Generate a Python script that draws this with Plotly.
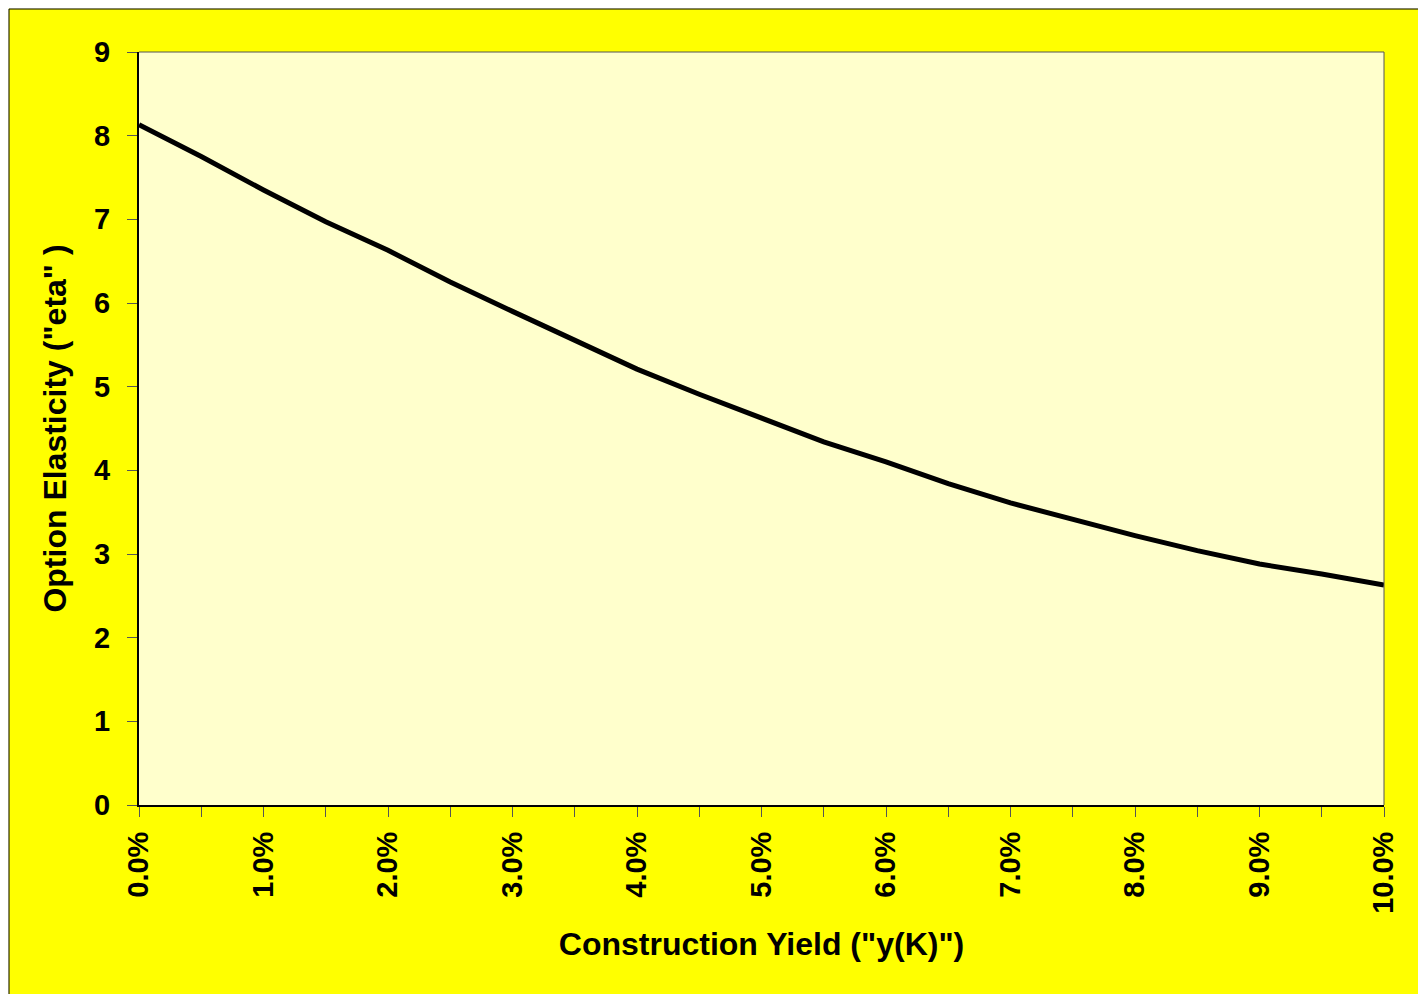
import plotly.graph_objects as go

# construction yield (fraction) and option elasticity
yields = [0.000, 0.005, 0.010, 0.015, 0.020, 0.025, 0.030, 0.035, 0.040, 0.045, 0.050,
          0.055, 0.060, 0.065, 0.070, 0.075, 0.080, 0.085, 0.090, 0.095, 0.100]
eta = [8.13, 7.75, 7.35, 6.97, 6.63, 6.25, 5.90, 5.56, 5.21, 4.91, 4.62,
       4.34, 4.10, 3.84, 3.61, 3.41, 3.22, 3.04, 2.88, 2.76, 2.63]
x_labels = [f"{v:.1%}" if i % 2 == 0 else "" for i, v in enumerate(yields)]
y_ticks = [0, 1, 2, 3, 4, 5, 6, 7, 8, 9]

FONT = "Liberation Sans, Arial, sans-serif"
TICK_COLOR = "#555555"
PLOT_W, PLOT_H = 1245, 753

fig = go.Figure()
fig.add_trace(go.Scatter(
    x=yields,
    y=eta,
    mode="lines",
    line=dict(color="black", width=5),
    hoverinfo="skip",
    showlegend=False
))

fig.update_layout(
    width=1426,
    height=994,
    autosize=False,
    margin=dict(l=131, r=50, t=44, b=197),
    paper_bgcolor="#FFFFCC",
    plot_bgcolor="#FFFFCC",
    font=dict(family=FONT, color="black", size=29, weight="bold"),
    showlegend=False,
    xaxis=dict(
        range=[0, 0.1],
        tickmode="array", tickvals=yields, ticktext=x_labels,
        ticks="outside", ticklen=10, tickwidth=1, tickcolor=TICK_COLOR,
        tickangle=-90, ticklabelstandoff=3,
        tickfont=dict(family=FONT, size=29, weight="bold"),
        showline=True, linecolor="black", linewidth=2,
        showgrid=False, zeroline=False,
        title=dict(text='Construction Yield ("y(K)")', standoff=20,
                   font=dict(family=FONT, size=32, weight="bold")),
    ),
    yaxis=dict(
        range=[0, 9],
        tickmode="array", tickvals=y_ticks,
        ticks="outside", ticklen=10, tickwidth=1, tickcolor=TICK_COLOR,
        ticklabelstandoff=11,
        tickfont=dict(family=FONT, size=29, weight="bold"),
        showline=True, linecolor="black", linewidth=2,
        showgrid=False, zeroline=False,
        title=dict(text='Option Elasticity ("eta" )', standoff=18,
                   font=dict(family=FONT, size=32, weight="bold")),
    ),
    # overlay axes give the inner half of the crossing ticks
    xaxis2=dict(
        overlaying="x", anchor="y", range=[0, 0.1],
        tickmode="array", tickvals=yields,
        ticks="inside", ticklen=10, tickwidth=1, tickcolor=TICK_COLOR,
        showticklabels=False, showline=False, showgrid=False, zeroline=False,
    ),
    yaxis2=dict(
        overlaying="y", anchor="x", range=[0, 9],
        tickmode="array", tickvals=y_ticks,
        ticks="inside", ticklen=10, tickwidth=1, tickcolor=TICK_COLOR,
        showticklabels=False, showline=False, showgrid=False, zeroline=False,
    ),
    shapes=[
        # yellow chart area with black frame
        dict(type="rect", xref="paper", yref="paper", layer="below",
             x0=-130 / PLOT_W, x1=1.08, y0=-0.3, y1=1 + 43 / PLOT_H,
             fillcolor="#FFFF00", line=dict(color="black", width=1)),
        # pale plot area
        dict(type="rect", xref="paper", yref="paper", layer="below",
             x0=0, x1=1, y0=0, y1=1,
             fillcolor="#FFFFCC", line=dict(width=0)),
        # plot area top and right border
        dict(type="line", xref="paper", yref="paper", x0=0, x1=1, y0=1, y1=1,
             line=dict(color=TICK_COLOR, width=1)),
        dict(type="line", xref="paper", yref="paper", x0=1, x1=1, y0=0, y1=1,
             line=dict(color=TICK_COLOR, width=1)),
    ],
)

fig.write_html("out.html")
